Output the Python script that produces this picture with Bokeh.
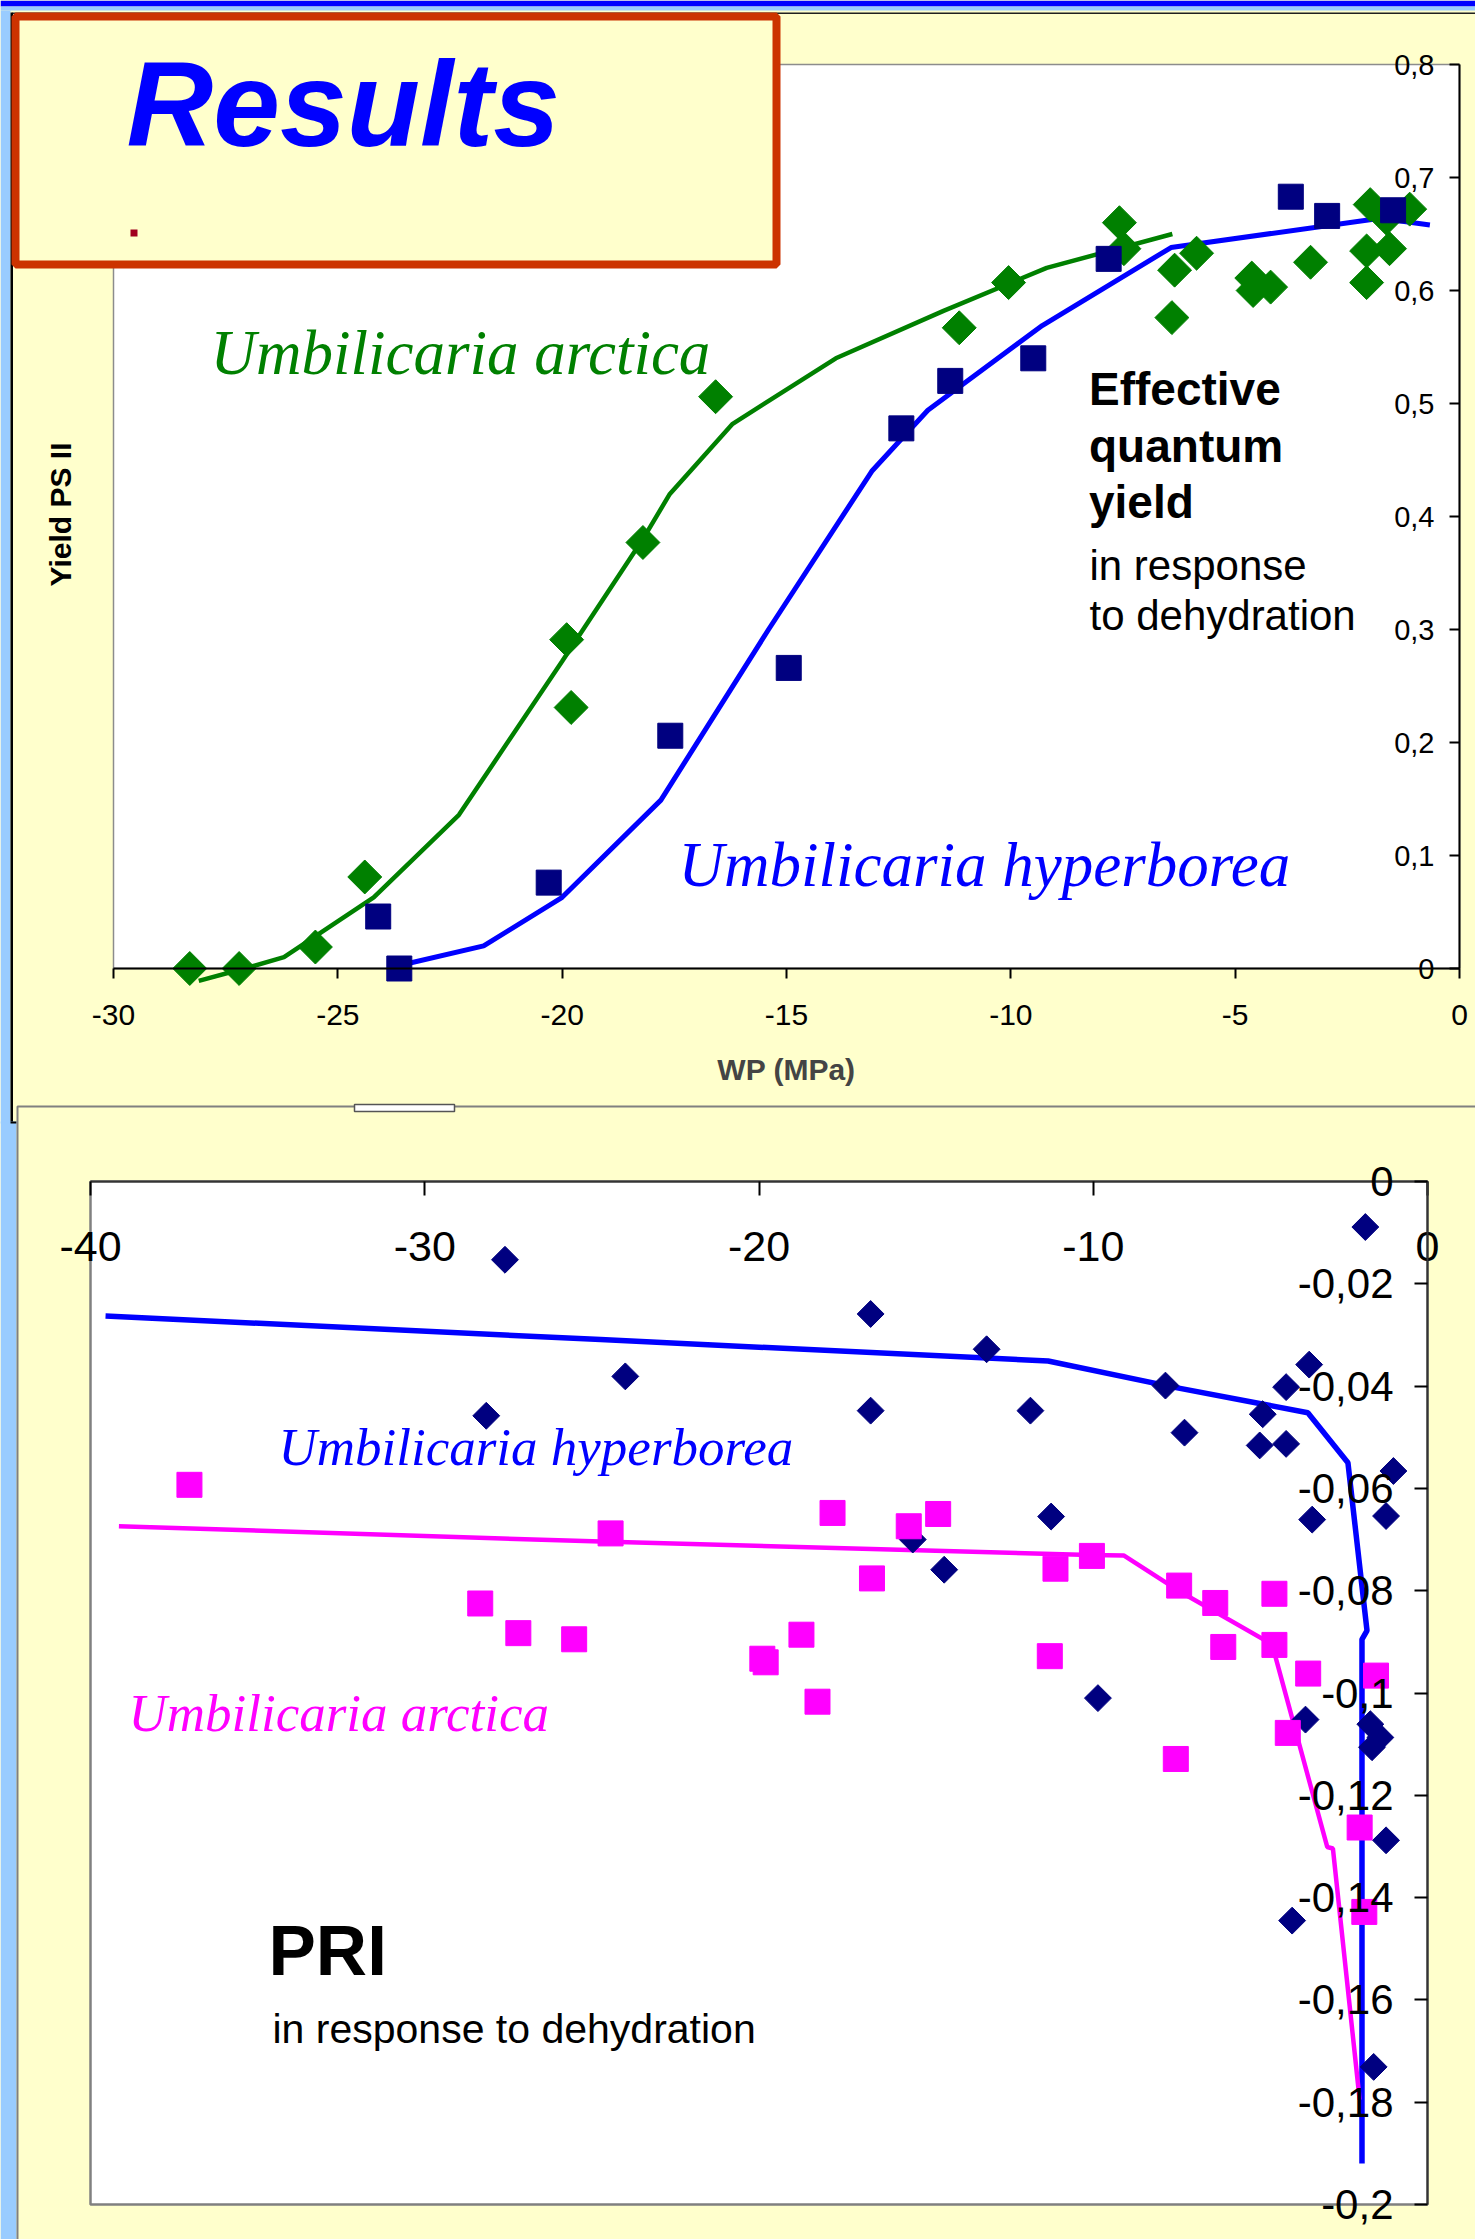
import numpy as np
from bokeh.plotting import figure
from bokeh.models import LinearAxis, FixedTicker, Label, BoxAnnotation, Range1d
from bokeh.embed import file_html
from bokeh.resources import INLINE

# ---------------- Top chart: Yield PS II vs WP (MPa) ----------------
arctica_wp = [-28.3, -27.2, -25.5, -24.4, -19.9, -19.8, -18.2, -16.58, -11.15, -10.05,
              -7.58, -7.48, -6.35, -6.41, -5.86, -4.63, -4.6, -4.21, -3.32, -1.99,
              -2.07, -2.07, -1.56, -1.11, -1.63]
arctica_yield = [0.0, 0.0, 0.019, 0.081, 0.291, 0.231, 0.377, 0.506, 0.567, 0.607,
                 0.660, 0.637, 0.618, 0.576, 0.633, 0.611, 0.600, 0.603, 0.625, 0.676,
                 0.635, 0.607, 0.637, 0.672, 0.664]
hyper_wp = [-23.63, -24.1, -20.3, -17.59, -14.95, -12.44, -11.35, -9.5, -7.82, -3.76, -2.95, -1.48]
hyper_yield = [0.0, 0.046, 0.076, 0.206, 0.266, 0.478, 0.520, 0.540, 0.628, 0.683, 0.666, 0.671]
arctica_fit_wp = [-28.1, -26.9, -26.2, -24.2, -22.3, -20.0, -18.2, -17.6, -16.2, -13.9, -11.5, -9.2, -6.4]
arctica_fit_yield = [-0.011, 0.002, 0.010, 0.063, 0.136, 0.272, 0.380, 0.420, 0.482, 0.540, 0.582, 0.620, 0.650]
hyper_fit_wp = [-23.7, -21.75, -20.0, -17.8, -15.4, -13.1, -11.85, -9.3, -6.43, -1.76, -0.66]
hyper_fit_yield = [0.002, 0.020, 0.063, 0.149, 0.300, 0.440, 0.494, 0.569, 0.638, 0.664, 0.658]
top_x_ticks = [-30, -25, -20, -15, -10, -5, 0]
top_x_labels = ["-30", "-25", "-20", "-15", "-10", "-5", "0"]
top_y_ticks = [0, 0.1, 0.2, 0.3, 0.4, 0.5, 0.6, 0.7, 0.8]
top_y_labels = ["0", "0,1", "0,2", "0,3", "0,4", "0,5", "0,6", "0,7", "0,8"]

# ---------------- Bottom chart: PRI vs WP ----------------
pri_hyper_wp = [-27.6, -28.16, -24.0, -16.66, -16.66, -13.19, -11.88, -11.26, -15.4, -14.46,
                -9.86, -1.86, -3.54, -4.23, -7.84, -7.27, -4.93, -5.02, -4.23, -1.02,
                -1.24, -3.45, -3.65, -1.71, -1.41, -1.66, -1.24, -4.05, -1.61]
pri_hyper = [-0.0153, -0.0458, -0.0381, -0.0259, -0.0448, -0.0328, -0.0448, -0.0655, -0.0700, -0.0759,
             -0.1010, -0.0089, -0.0358, -0.0402, -0.0399, -0.0491, -0.0455, -0.0516, -0.0513, -0.0566,
             -0.0654, -0.0661, -0.1052, -0.1061, -0.1087, -0.1106, -0.1288, -0.1445, -0.1731]
pri_arctica_wp = [-37.04, -28.34, -27.2, -25.53, -24.44, -17.8, -15.52, -14.64, -16.62, -11.13,
                  -10.04, -18.73, -19.9, -19.8, -11.3, -18.25, -7.43, -6.35, -4.58, -6.11,
                  -4.58, -3.57, -1.54, -4.18, -7.53, -2.03, -1.89]
pri_arctica = [-0.0593, -0.0825, -0.0883, -0.0895, -0.0688, -0.0648, -0.0674, -0.0650, -0.0776, -0.0757,
               -0.0732, -0.0886, -0.0933, -0.0940, -0.0928, -0.1017, -0.0790, -0.0824, -0.0806, -0.0910,
               -0.0906, -0.0962, -0.0966, -0.1078, -0.1129, -0.1263, -0.1428]
pri_arctica_fit_wp = [-39.15, -24.74, -10.09, -9.09, -7.45, -4.65, -3.0, -2.83, -2.03]
pri_arctica_fit = [-0.0674, -0.0704, -0.0730, -0.0731, -0.0800, -0.0905, -0.1301, -0.1304, -0.1795]
pri_hyper_fit_wp = [-39.55, -24.74, -11.35, -7.6, -3.58, -2.38, -1.81, -1.96, -1.96]
pri_hyper_fit = [-0.0263, -0.0309, -0.0351, -0.0402, -0.0452, -0.0550, -0.0878, -0.0895, -0.1920]
bot_x_ticks = [-40, -30, -20, -10, 0]
bot_x_labels = ["-40", "-30", "-20", "-10", "0"]
bot_y_ticks = [0, -0.02, -0.04, -0.06, -0.08, -0.1, -0.12, -0.14, -0.16, -0.18, -0.2]
bot_y_labels = ["0", "-0,02", "-0,04", "-0,06", "-0,08", "-0,1", "-0,12", "-0,14", "-0,16", "-0,18", "-0,2"]

# ---------------- page layout (pixels) ----------------
W, H = 1475, 2239
TOP_XPX = (113.0, 1459.0)   # x = -30 .. 0
TOP_YPX = (968.0, 64.0)     # y = 0 .. 0.8
BOT_XPX = (90.0, 1427.0)    # x = -40 .. 0
BOT_YPX = (1181.0, 2204.0)  # y = 0 .. -0.2

tsx = (TOP_XPX[1] - TOP_XPX[0]) / 30.0
tsy = (TOP_YPX[0] - TOP_YPX[1]) / 0.8
bsx = (BOT_XPX[1] - BOT_XPX[0]) / 40.0
bsy = (BOT_YPX[1] - BOT_YPX[0]) / 0.2


def tx(X):
    return -30 + (X - TOP_XPX[0]) / tsx


def ty(Y):
    return (TOP_YPX[0] - Y) / tsy


def bx(X):
    return -40 + (X - BOT_XPX[0]) / bsx


def by(Y):
    return -(Y - BOT_YPX[0]) / bsy


YELLOW = "#FFFFCC"
LIGHTBLUE = "#99CCFF"
SANS = "Liberation Sans"
SERIF = "Liberation Serif"
GREEN = "#008000"
NAVY = "#000080"
BLUE = "#0000FF"
MAGENTA = "#FF00FF"

p = figure(width=W, height=H, output_backend="svg", toolbar_location=None,
           x_axis_location=None, y_axis_location=None,
           x_range=Range1d(tx(0), tx(W)), y_range=Range1d(ty(H), ty(0)),
           min_border=0, min_border_left=0, min_border_right=0,
           min_border_top=0, min_border_bottom=0)
p.extra_x_ranges = {"bx": Range1d(bx(0), bx(W))}
p.extra_y_ranges = {"by": Range1d(by(H), by(0))}
p.border_fill_color = YELLOW
p.background_fill_color = YELLOW
p.outline_line_color = None
p.grid.visible = False


def text_at(Xpx, Ypx_baseline, text, size, font=SANS, style="normal", color="black"):
    # place text so that its baseline sits at the given page pixel row
    shift = 0.36 * size
    p.add_layout(Label(x=tx(Xpx), y=ty(Ypx_baseline - shift), text=text, text_font=font,
                       text_font_style=style, text_font_size=f"{size}px", text_color=color,
                       text_baseline="alphabetic"))


# ---------- plot areas ----------
p.quad(left=[top_x_ticks[0]], right=[top_x_ticks[-1]], bottom=[top_y_ticks[0]], top=[top_y_ticks[-1]],
       fill_color="white", line_color="#8C8C8C", line_width=1.5)
p.quad(left=[bot_x_ticks[0]], right=[bot_x_ticks[-1]], bottom=[bot_y_ticks[-1]], top=[bot_y_ticks[0]],
       fill_color="white", line_color="#808080", line_width=2.5,
       x_range_name="bx", y_range_name="by")

# ---------- top chart ----------
xb = LinearAxis(ticker=FixedTicker(ticks=top_x_ticks), fixed_location=0,
                bounds=(top_x_ticks[0], top_x_ticks[-1]), axis_label="WP (MPa)",
                major_label_overrides=dict(zip(top_x_ticks, top_x_labels)))
xb.major_tick_out = 10
xb.major_tick_in = 0
xb.minor_tick_out = 0
xb.minor_tick_in = 0
xb.axis_line_width = 2
xb.major_tick_line_width = 2
xb.major_label_text_font = SANS
xb.major_label_text_font_size = "30px"
xb.major_label_text_color = "black"
xb.major_label_standoff = 26
xb.axis_label_text_font = SANS
xb.axis_label_text_font_style = "bold"
xb.axis_label_text_font_size = "30px"
xb.axis_label_standoff = 25
p.add_layout(xb, "below")

yl = LinearAxis(ticker=FixedTicker(ticks=top_y_ticks), fixed_location=0,
                bounds=(top_y_ticks[0], top_y_ticks[-1]),
                major_label_overrides=dict(zip(top_y_ticks, top_y_labels)))
yl.major_tick_out = 10
yl.major_tick_in = 0
yl.minor_tick_in = 0
yl.minor_tick_out = 0
yl.axis_line_width = 2
yl.major_tick_line_width = 2
yl.major_label_text_font = SANS
yl.major_label_text_font_size = "29px"
yl.major_label_text_color = "black"
yl.major_label_standoff = 15
p.add_layout(yl, "left")

p.line(arctica_fit_wp, arctica_fit_yield, line_color=GREEN, line_width=4.5)
p.line(hyper_fit_wp, hyper_fit_yield, line_color=BLUE, line_width=5)
p.scatter(arctica_wp, arctica_yield, marker="square", angle=np.pi / 4, size=24,
          fill_color=GREEN, line_color=GREEN)
p.scatter(hyper_wp, hyper_yield, marker="square", size=25, fill_color=NAVY, line_color=NAVY)

text_at(210, 375.6, "Umbilicaria arctica", 63, font=SERIF, style="italic", color=GREEN)
text_at(678, 887, "Umbilicaria hyperborea", 63, font=SERIF, style="italic", color=BLUE)
for txt, Y in zip(["Effective", "quantum", "yield"], [405, 461.7, 518]):
    text_at(1088.5, Y, txt, 46, style="bold")
for txt, Y in zip(["in response", "to dehydration"], [580, 630]):
    text_at(1089, Y, txt, 42)
p.add_layout(Label(x=tx(60), y=ty(514), text="Yield PS II", angle=np.pi / 2,
                   text_font=SANS, text_font_style="bold", text_font_size="30px",
                   text_align="center", text_baseline="middle", text_color="black"))

# ---------- bottom chart ----------
xa = LinearAxis(ticker=FixedTicker(ticks=bot_x_ticks), fixed_location=0,
                x_range_name="bx", y_range_name="by",
                bounds=(bot_x_ticks[0], bot_x_ticks[-1]),
                major_label_overrides=dict(zip(bot_x_ticks, bot_x_labels)))
xa.major_tick_out = 14
xa.major_tick_in = 0
xa.minor_tick_in = 0
xa.minor_tick_out = 0
xa.axis_line_width = 2
xa.axis_line_color = "#333333"
xa.major_tick_line_width = 2
xa.major_label_text_font = SANS
xa.major_label_text_font_size = "43px"
xa.major_label_text_color = "black"
xa.major_label_standoff = 36
p.add_layout(xa, "below")

ya = LinearAxis(ticker=FixedTicker(ticks=bot_y_ticks), fixed_location=0,
                x_range_name="bx", y_range_name="by",
                bounds=(bot_y_ticks[-1], bot_y_ticks[0]),
                major_label_overrides=dict(zip(bot_y_ticks, bot_y_labels)))
ya.major_tick_out = 13
ya.major_tick_in = 0
ya.minor_tick_in = 0
ya.minor_tick_out = 0
ya.axis_line_width = 2
ya.axis_line_color = "#333333"
ya.major_tick_line_width = 2
ya.major_label_text_font = SANS
ya.major_label_text_font_size = "42px"
ya.major_label_text_color = "black"
ya.major_label_standoff = 21
p.add_layout(ya, "left")

p.line(pri_hyper_fit_wp, pri_hyper_fit, line_color=BLUE, line_width=5.5,
       x_range_name="bx", y_range_name="by")
p.line(pri_arctica_fit_wp, pri_arctica_fit, line_color=MAGENTA, line_width=4.5,
       x_range_name="bx", y_range_name="by")
p.scatter(pri_hyper_wp, pri_hyper, marker="square", angle=np.pi / 4, size=19,
          fill_color=NAVY, line_color=NAVY, x_range_name="bx", y_range_name="by")
p.scatter(pri_arctica_wp, pri_arctica, marker="square", size=25,
          fill_color=MAGENTA, line_color=MAGENTA, x_range_name="bx", y_range_name="by")

text_at(278, 1466, "Umbilicaria hyperborea", 53, font=SERIF, style="italic", color=BLUE)
text_at(128, 1731.7, "Umbilicaria arctica", 53, font=SERIF, style="italic", color=MAGENTA)
text_at(268, 1976, "PRI", 71, style="bold")
text_at(272, 2043, "in response to dehydration", 41)

# ---------- slide decorations ----------
def box(X0, Y0, X1, Y1, **kw):
    kw.setdefault("line_alpha", 1)
    kw.setdefault("fill_alpha", 1)
    p.add_layout(BoxAnnotation(left=tx(X0), right=tx(X1), top=ty(Y0), bottom=ty(Y1), **kw))


box(0, 0, W + 5, 6, fill_color=BLUE, line_alpha=0)
box(0, 6, W + 5, 10, fill_color=LIGHTBLUE, line_alpha=0)
box(12, 12, W + 5, 13.5, fill_color="#202020", line_alpha=0)
box(0, 10, 10, 1123, fill_color=LIGHTBLUE, line_alpha=0)
box(10, 12, 12.5, 1123, fill_color="black", line_alpha=0)
box(0, 1121, 16, H + 5, fill_color=LIGHTBLUE, line_alpha=0)
box(10, 1121, 16, 1123, fill_color="black", line_alpha=0)
box(17, 1106, W + 10, H + 10, fill_alpha=0, line_color="#808080", line_width=2)
box(354, 1104, 454, 1111, fill_color="white", line_color="#555555", line_width=1.5)
# title box
box(15, 16, 776, 264, fill_color=YELLOW, line_color="#CC3300", line_width=8)
box(130, 229, 137, 236, fill_color="#A0001E", line_alpha=0)
text_at(126, 147, "Results", 120, style="bold italic", color=BLUE)

open("out.html", "w").write(file_html(p, INLINE))
